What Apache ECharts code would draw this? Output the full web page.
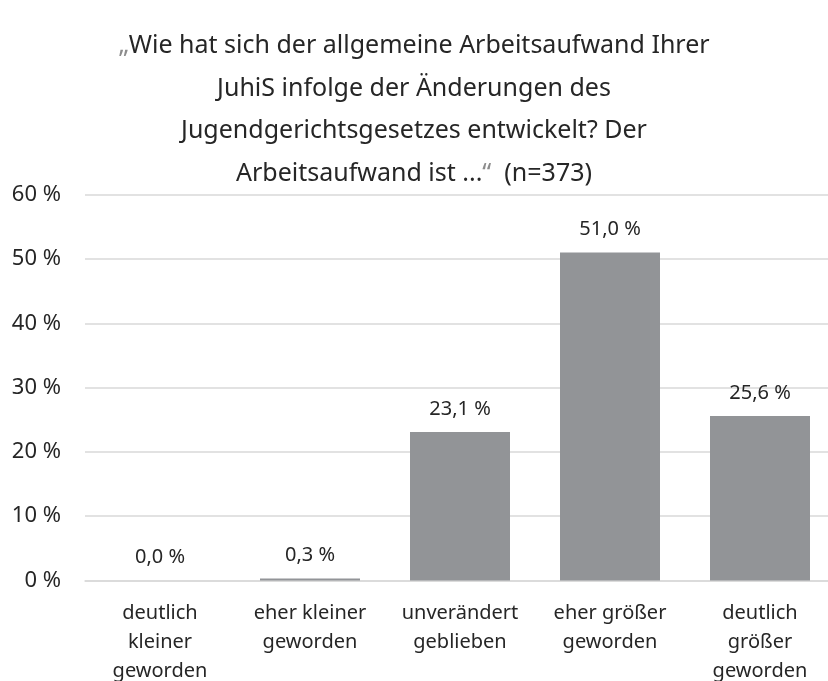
<!DOCTYPE html>
<html>
<head>
<meta charset="utf-8">
<script src="https://cdn.jsdelivr.net/npm/echarts@6/dist/echarts.min.js"></script>
<style>
  html, body { margin: 0; padding: 0; background: #fff; }
  #chart { width: 828px; height: 681px; }
</style>
</head>
<body>
<div id="chart"></div>
<script>
var categories = [
    'deutlich\nkleiner\ngeworden',
    'eher kleiner\ngeworden',
    'unverändert\ngeblieben',
    'eher größer\ngeworden',
    'deutlich\ngrößer\ngeworden'
];
var values = [0.0, 0.3, 23.1, 51.0, 25.6];
var yTicks = { min: 0, max: 60, interval: 10 };

var FONT = 'Noto Sans';
var TEXT = '#262626';

var chart = echarts.init(document.getElementById('chart'));

var option = {
    backgroundColor: '#fff',
    animation: false,
    title: {
        left: 'center',
        top: 25,
        padding: 0,
        text: '{q|\u201E}Wie hat sich der allgemeine Arbeitsaufwand Ihrer\n' +
              'JuhiS infolge der Änderungen des\n' +
              'Jugendgerichtsgesetzes entwickelt? Der\n' +
              'Arbeitsaufwand ist ...{q|\u201C}  (n=373)',
        textStyle: {
            fontFamily: FONT,
            fontSize: 25,
            fontWeight: 'normal',
            color: TEXT,
            lineHeight: 42.5,
            rich: {
                q: { color: '#8c8c8c', fontFamily: FONT, fontSize: 25, lineHeight: 42.5 }
            }
        }
    },
    grid: {
        left: 85,
        width: 750,
        top: 194.7,
        bottom: 100.5,
        containLabel: false,
        outerBoundsMode: 'none'
    },
    xAxis: {
        type: 'category',
        data: categories,
        axisLine: { show: true, lineStyle: { color: '#d9d9d9', width: 1.5 } },
        axisTick: { show: false },
        axisLabel: {
            interval: 0,
            margin: 18,
            fontFamily: FONT,
            fontSize: 20,
            lineHeight: 29,
            color: TEXT
        }
    },
    yAxis: {
        type: 'value',
        min: yTicks.min,
        max: yTicks.max,
        interval: yTicks.interval,
        axisLine: { show: false },
        axisTick: { show: false },
        splitLine: { lineStyle: { color: '#d9d9d9', width: 1.5 } },
        axisLabel: {
            margin: 24,
            fontFamily: FONT,
            fontSize: 22,
            color: TEXT,
            formatter: '{value} %'
        }
    },
    series: [{
        type: 'bar',
        data: values,
        barWidth: 100,
        itemStyle: { color: '#929497' },
        label: {
            show: true,
            position: 'top',
            distance: 13,
            fontFamily: FONT,
            fontSize: 20,
            color: TEXT,
            formatter: function (p) {
                return p.value.toFixed(1).replace('.', ',') + ' %';
            }
        }
    }]
};

chart.setOption(option);
</script>
</body>
</html>
